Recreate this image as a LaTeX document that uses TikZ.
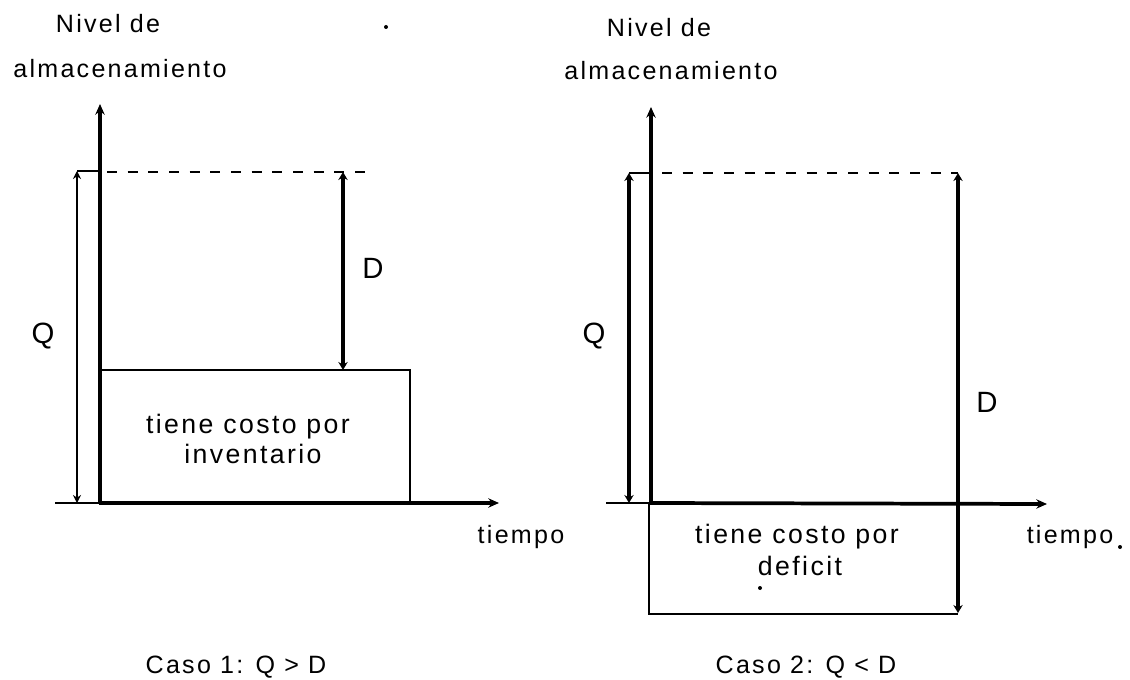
\documentclass[tikz,border=0pt]{standalone}
\usepackage{fontspec}
\setmainfont[LetterSpace=9]{Liberation Sans}
\usetikzlibrary{arrows.meta}
\tikzset{
  lbl/.style={inner sep=0pt,anchor=base,font=\fontsize{18.8}{22}\selectfont,text=black},
  boxlbl/.style={lbl,font=\fontsize{20}{24}\selectfont},
  big/.style={lbl,font=\fontsize{22}{26}\selectfont},
  axis/.style={line width=2.8pt,-{Stealth[length=8pt,width=7pt]}},
  thin axis/.style={line width=1.2pt},
  dbl/.style={line width=1.8pt,{Stealth[length=6pt,width=6pt]}-{Stealth[length=6pt,width=6pt]}},
  thick dbl/.style={line width=2.5pt,{Stealth[length=6pt,width=7pt]}-{Stealth[length=6pt,width=7pt]}},
  guide/.style={line width=1.6pt},
  dash line/.style={line width=1.5pt,dash pattern=on 7.5pt off 8pt},
  box/.style={line width=1.4pt},
  speck/.style={circle,fill=black,inner sep=0pt,minimum size=3pt}
}
\begin{document}
\begin{tikzpicture}[x=0.75pt,y=-0.75pt]
\useasboundingbox (0,0) rectangle (1130,680);
% --- Caso 1
\coordinate (o1) at (100,504);
\coordinate (t1) at (100,104);
\coordinate (xs1) at (55,503);
\coordinate (xb1) at (99,503);
\coordinate (xe1) at (499,503);
\coordinate (qb1) at (77,503);
\coordinate (qt1) at (77,171);
\coordinate (yq1) at (100,171);
\coordinate (ds1) at (107,172);
\coordinate (de1) at (365,172);
\coordinate (dt1) at (343,172);
\coordinate (db1) at (343,370);
\coordinate (rtl1) at (100,370);
\coordinate (rtr1) at (410,370);
\coordinate (rbr1) at (410,503);
\draw[box] (rtl1) -- (rtr1) -- (rbr1);
\draw[thin axis] (xs1) -- (xb1);
\draw[axis] (xb1) -- (xe1);
\draw[axis] (o1) -- (t1);
\draw[dbl] (qt1) -- (qb1);
\draw[guide] (qt1) -- (yq1);
\draw[dash line] (ds1) -- (de1);
\draw[thick dbl] (dt1) -- (db1);
\node[lbl] (n1) at (108,33) {Nivel de};
\node[lbl] (a1) at (120,78) {almacenamiento};
\node[big] (q1) at (43,344) {Q};
\node[big] (d1) at (373,279) {D};
\node[boxlbl] (c1) at (248,433) {tiene costo por};
\node[boxlbl] (c1b) at (253,463) {inventario};
\node[lbl] (ti1) at (521,543) {tiempo};
\node[lbl] (ca1) at (236,673) {Caso 1: Q > D};
% --- Caso 2
\coordinate (o2) at (651,504);
\coordinate (t2) at (651,107);
\coordinate (xs2) at (606,503);
\coordinate (xb2) at (649,503);
\coordinate (xe2) at (1047,504);
\coordinate (qb2) at (629,503);
\coordinate (qt2) at (629,173);
\coordinate (yq2) at (651,173);
\coordinate (ds2) at (662,173);
\coordinate (de2) at (958,173);
\coordinate (db2) at (958,613);
\coordinate (rtl2) at (649,503);
\coordinate (rbl2) at (649,614);
\coordinate (rbr2) at (958,614);
\draw[box] (rtl2) -- (rbl2) -- (rbr2);
\draw[thin axis] (xs2) -- (xb2);
\draw[axis] (xb2) -- (xe2);
\draw[axis,line width=2.4pt] (o2) -- (t2);
\draw[thick dbl] (qt2) -- (qb2);
\draw[guide] (qt2) -- (yq2);
\draw[dash line] (ds2) -- (de2);
\draw[thick dbl] (de2) -- (db2);
\node[lbl] (n2) at (659,37) {Nivel de};
\node[lbl] (a2) at (671,80) {almacenamiento};
\node[big] (q2) at (594,344) {Q};
\node[big] (d2) at (987,412) {D};
\node[boxlbl] (c2) at (797,543) {tiene costo por};
\node[boxlbl] (c2b) at (800,575) {deficit};
\node[lbl] (ti2) at (1070,543) {tiempo};
\node[lbl] (ca2) at (806,673) {Caso 2: Q < D};
% --- specks
\node[speck] (s1) at (386,27) {};
\node[speck] (s2) at (760,588) {};
\node[speck] (s3) at (1120,547) {};
\end{tikzpicture}
\end{document}
